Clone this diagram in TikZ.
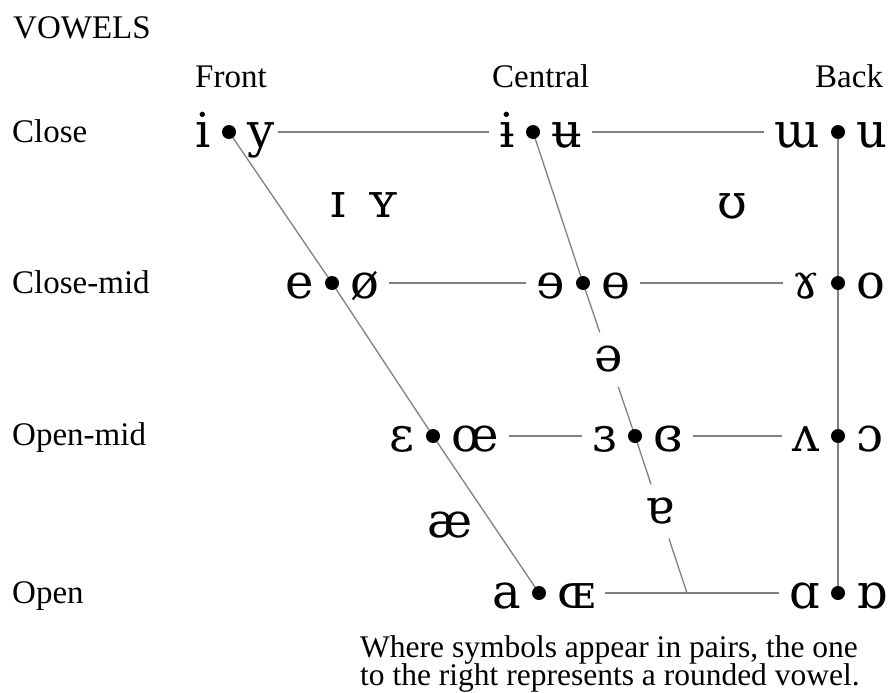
\documentclass[tikz,border=0pt]{standalone}
\usepackage{fontspec}
\setmainfont{Liberation Serif}
\newfontfamily\ipa{DejaVu Serif}
\newcommand\notefont{\fontsize{31.5pt}{28pt}\selectfont\lineskiplimit -30pt\relax}
\usetikzlibrary{positioning,calc}
\begin{document}
\begin{tikzpicture}[x=1pt,y=-1pt,
  label/.style={font=\fontsize{33pt}{36pt}\selectfont, inner sep=0pt, anchor=base west},
  sym/.style={font=\ipa\fontsize{48pt}{48pt}\selectfont, inner xsep=10pt, inner ysep=0pt,
              text height=30pt, text depth=0pt},
  lsym/.style={sym, left=8pt of #1},
  rsym/.style={sym, right=8pt of #1},
  freesym/.style={font=\ipa\fontsize{48pt}{48pt}\selectfont, inner sep=0pt, anchor=base},
  midsym/.style={font=\ipa\fontsize{48pt}{48pt}\selectfont, inner sep=0pt,
                 minimum height=54pt, minimum width=30pt},
  edge/.style={draw=black!50, line width=1.3pt},
  vdot/.style={fill=black}
]
\useasboundingbox (0,0) rectangle (891,693);

% vertices of the vowel trapezium
\coordinate (cF)  at (229,132);
\coordinate (cC)  at (533,132);
\coordinate (cB)  at (838,132);
\coordinate (cmF) at (332,283);
\coordinate (cmC) at (583,283);
\coordinate (cmB) at (838,283);
\coordinate (omF) at (433,436);
\coordinate (omC) at (635,436);
\coordinate (omB) at (838,436);
\coordinate (oF)  at (539,593);
\coordinate (oC)  at (687,593);
\coordinate (oB)  at (838,593);

% headings
\node[label] (title) at (13,38) {VOWELS};
\node[label] (front) at (195,88) {Front};
\node[label] (central) at (492,87) {Central};
\node[label] (back) at (815,87) {Back};
\node[label] (close) at (12,142) {Close};
\node[label] (closemid) at (12,293) {Close-mid};
\node[label] (openmid) at (12,445) {Open-mid};
\node[label] (open) at (12,603) {Open};

% vowel pairs: unrounded left of the dot, rounded right of it
\node[lsym=cF] (i) {i};
\node[rsym=cF] (y) {y};
\node[lsym=cC] (ibar) {ɨ};
\node[rsym=cC] (ubar) {ʉ};
\node[lsym=cB] (mturn) {ɯ};
\node[rsym=cB] (u) {u};

\node[lsym=cmF] (e) {e};
\node[rsym=cmF] (oslash) {ø};
\node[lsym=cmC] (erev) {ɘ};
\node[rsym=cmC] (obar) {ɵ};
\node[lsym=cmB] (gam) {ɤ};
\node[rsym=cmB] (o) {o};

\node[lsym=omF] (eps) {ɛ};
\node[rsym=omF] (oe) {œ};
\node[lsym=omC] (epsrev) {ɜ};
\node[rsym=omC] (epsclosed) {ɞ};
\node[lsym=omB] (vturn) {ʌ};
\node[rsym=omB] (oopen) {ɔ};

\node[lsym=oF] (a) {a};
\node[rsym=oF] (OE) {ɶ};
\node[lsym=oB] (alpha) {ɑ};
\node[rsym=oB] (alphaturn) {ɒ};

% vowels off the grid
\node[freesym] (ismall) at (338,217) {ɪ};
\node[freesym] (ysmall) at (383,217) {ʏ};
\node[freesym] (upsilon) at (732,218) {ʊ};
\node[freesym] (ae) at (450,537) {æ};
\node[midsym] (schwa) at ($(cmC)!0.5!(omC)$) {ə};
\node[midsym] (aturn) at ($(omC)!0.48!(oC)$) {ɐ};

% rows
\draw[edge] (y.east) ++(-7,0) -- (ibar);
\draw[edge] (ubar) -- (mturn);
\draw[edge] (oslash) -- (erev);
\draw[edge] (obar) -- (gam);
\draw[edge] (oe) -- (epsrev);
\draw[edge] (epsclosed) -- (vturn);
\draw[edge] (OE) -- (alpha);

% front, central and back edges
\draw[edge] (cF) -- (cmF) -- (omF) -- (oF);
\draw[edge] (cC) -- (cmC) -- (schwa);
\draw[edge] (schwa) -- (omC) -- (aturn);
\draw[edge] (aturn) -- (oC);
\draw[edge] (cB) -- (oB);

% vowel points
\foreach \p in {cF,cC,cB,cmF,cmC,cmB,omF,omC,omB,oF,oB}
  \fill[vdot] (\p) circle (7pt);

% note
\node[font=\notefont, inner sep=0pt, anchor=north west, align=left]
  (note) at (360,635) {Where symbols appear in pairs, the one\\to the right represents a rounded vowel.};
\end{tikzpicture}
\end{document}
